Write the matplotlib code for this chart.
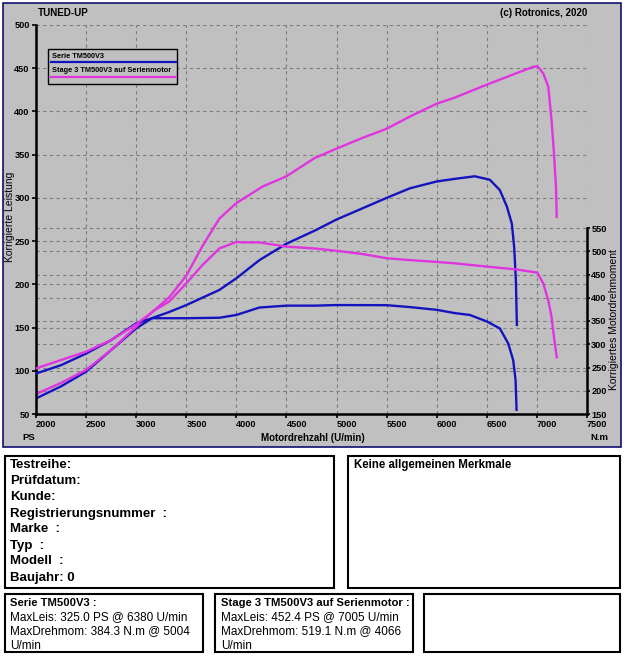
import matplotlib
matplotlib.use('Agg')
import matplotlib.pyplot as plt
from matplotlib.patches import Rectangle
from matplotlib.lines import Line2D

plt.rcParams['font.family'] = ['Liberation Sans', 'DejaVu Sans']

# ---------------- data ----------------
serie_ps_rpm = [2000, 2250, 2500, 2750, 3000, 3160, 3330, 3500, 3830, 4000, 4230, 4500,
                4780, 5000, 5260, 5500, 5730, 6000, 6180, 6380, 6530, 6630, 6700, 6750,
                6773, 6790, 6800]
serie_ps = [68, 82, 99, 124, 149, 161, 168, 176, 193.5, 207, 228, 247,
            262, 275, 288, 300, 311, 319, 322, 325, 321, 309, 290, 270,
            243, 205, 153]

serie_nm_rpm = [2000, 2250, 2500, 2750, 3000, 3160, 3500, 3830, 4000, 4230, 4500, 4780,
                5004, 5500, 5730, 6000, 6180, 6330, 6500, 6630, 6713, 6763, 6787, 6797]
serie_nm = [237, 255, 280, 309, 345, 356, 356, 357, 363, 379, 383, 383,
            384.3, 384, 380, 374, 367, 363, 349, 334, 302, 266, 223, 159]

stage_ps_rpm = [2000, 2250, 2500, 2750, 3000, 3160, 3330, 3500, 3660, 3830, 4000, 4260,
                4500, 4780, 5000, 5250, 5500, 5730, 6000, 6180, 6500, 6790, 6960, 7005,
                7063, 7113, 7146, 7170, 7190, 7198]
stage_ps = [73, 86, 101, 124, 151, 168, 185, 210, 244, 276, 294, 313,
            325, 346, 357, 369, 380, 394, 409, 416, 431, 444, 451.5, 452.4,
            444, 429, 390, 352, 313, 278]

stage_nm_rpm = [2000, 2250, 2500, 2750, 3000, 3190, 3330, 3500, 3660, 3830, 4000, 4066,
                4230, 4500, 4780, 5000, 5260, 5500, 5730, 6000, 6180, 6500, 6790, 7005,
                7063, 7113, 7146, 7170, 7198]
stage_nm = [248, 266, 284, 309, 343, 374, 392, 431, 470, 506, 520, 519.1,
            519, 510, 506, 501, 494, 485, 481, 477, 474, 467, 461, 454,
            431, 395, 359, 316, 272]

rpm_ticks = list(range(2000, 7501, 500))
ps_ticks = list(range(50, 501, 50))
nm_ticks = list(range(150, 551, 50))

series_names = ['Serie TM500V3', 'Stage 3 TM500V3 auf Serienmotor']
info_left = ['Testreihe:', 'Prüfdatum:', 'Kunde:', 'Registrierungsnummer  :',
             'Marke  :', 'Typ  :', 'Modell  :', 'Baujahr: 0']
summary_serie = ['Serie TM500V3 :', 'MaxLeis: 325.0 PS @ 6380 U/min',
                 'MaxDrehmom: 384.3 N.m @ 5004', 'U/min']
summary_stage = ['Stage 3 TM500V3 auf Serienmotor :', 'MaxLeis: 452.4 PS @ 7005 U/min',
                 'MaxDrehmom: 519.1 N.m @ 4066', 'U/min']

# ---------------- styling ----------------
BLUE = '#1414bf'
MAGENTA = '#e034e0'
GRAY = '#c0c0c0'
GRID = '#7c7c7c'

W, H = 625, 656
fig = plt.figure(figsize=(6.25, 6.56), dpi=100)
fig.patch.set_facecolor('white')


def fx(x):
    return x / W


def fy(y):
    return 1 - y / H


def rect(x0, y0, x1, y1, fc='none', ec='black', lw=1.5, z=-1):
    fig.patches.append(Rectangle((fx(x0), fy(y1)), fx(x1) - fx(x0), fy(y0) - fy(y1),
                                 transform=fig.transFigure, facecolor=fc,
                                 edgecolor=ec, lw=lw, zorder=z))


# chart panel
rect(3, 3, 621, 447, fc=GRAY, ec='#101070', lw=1.2, z=-5)

# axes geometry
L, R, T, B = 36, 587, 25, 414
pos = [fx(L), fy(B), fx(R) - fx(L), fy(T) - fy(B)]
NM_TOP = 150 + 400 * (B - T) / (B - 228)

dash = (0, (3, 3))
TICKFS = 6.6

# background grid for torque axis
axg = fig.add_axes(pos)
axg.patch.set_alpha(0)
axg.set_xlim(2000, 7500)
axg.set_ylim(150, NM_TOP)
axg.set_yticks(nm_ticks[1:])
axg.set_xticks([])
axg.yaxis.grid(True, ls=dash, color=GRID, lw=0.8)
axg.tick_params(left=False, labelleft=False, bottom=False, labelbottom=False)
for s in axg.spines.values():
    s.set_visible(False)

# power axis
ax = fig.add_axes(pos)
ax.patch.set_alpha(0)
ax.set_xlim(2000, 7500)
ax.set_ylim(50, 500)
ax.set_xticks(rpm_ticks)
ax.set_yticks(ps_ticks)
ax.grid(True, ls=dash, color=GRID, lw=0.8)
ax.set_axisbelow(True)
for s in ['top', 'right']:
    ax.spines[s].set_visible(False)
for s in ['left', 'bottom']:
    ax.spines[s].set_linewidth(1.8)
ax.tick_params(axis='both', direction='out', length=3, width=1.2, labelsize=TICKFS, pad=1.5)
for lab in ax.get_xticklabels():
    lab.set_fontweight('bold')
    lab.set_horizontalalignment('left')
for lab in ax.get_yticklabels():
    lab.set_fontweight('bold')

ax.plot(serie_ps_rpm, serie_ps, color=BLUE, lw=1.7, solid_joinstyle='round')
ax.plot(stage_ps_rpm, stage_ps, color=MAGENTA, lw=1.7, solid_joinstyle='round')

# torque axis
ax2 = ax.twinx()
ax2.set_ylim(150, NM_TOP)
ax2.set_yticks(nm_ticks)
for s in ['top', 'left', 'bottom']:
    ax2.spines[s].set_visible(False)
ax2.spines['right'].set_bounds(150, 550)
ax2.spines['right'].set_linewidth(1.8)
ax2.tick_params(axis='y', direction='out', length=2.5, width=1.2, labelsize=TICKFS, pad=0.5)
for lab in ax2.get_yticklabels():
    lab.set_fontweight('bold')
ax2.plot(serie_nm_rpm, serie_nm, color=BLUE, lw=1.7, solid_joinstyle='round')
ax2.plot(stage_nm_rpm, stage_nm, color=MAGENTA, lw=1.7, solid_joinstyle='round')

# axis labels and header texts
fig.text(fx(10), fy(217), 'Korrigierte Leistung', rotation=90, ha='center', va='center', fontsize=7.5)
fig.text(fx(614), fy(320), 'Korrigiertes Motordrehmoment', rotation=90, ha='center', va='center', fontsize=7.5)
fig.text(fx(313), fy(438), 'Motordrehzahl (U/min)', ha='center', va='center', fontsize=7, fontweight='bold')
fig.text(fx(29), fy(438), 'PS', ha='center', va='center', fontsize=6.8, fontweight='bold')
fig.text(fx(599), fy(438), 'N.m', ha='center', va='center', fontsize=6.8, fontweight='bold')
fig.text(fx(38), fy(12.5), 'TUNED-UP', ha='left', va='center', fontsize=7.1, fontweight='bold')
fig.text(fx(587), fy(12.5), '(c) Rotronics, 2020', ha='right', va='center', fontsize=7, fontweight='bold')

# legend (manual, drawn like the reference)
rect(48, 49, 177, 84, fc=GRAY, ec='black', lw=1.0, z=5)
fig.text(fx(51.5), fy(56), series_names[0], ha='left', va='center', fontsize=5.3, fontweight='bold', zorder=6)
fig.text(fx(51.5), fy(71), series_names[1], ha='left', va='center', fontsize=5.3, fontweight='bold', zorder=6)
fig.add_artist(Line2D([fx(51), fx(176)], [fy(62), fy(62)], color=BLUE, lw=1.6, zorder=6))
fig.add_artist(Line2D([fx(51), fx(176)], [fy(76.5), fy(76.5)], color=MAGENTA, lw=1.6, zorder=6))

# info boxes
rect(5, 456, 334, 588)
rect(348, 456, 620, 588)
rect(5, 594, 203, 652)
rect(215, 594, 413, 652)
rect(424, 594, 620, 652)

for i, line in enumerate(info_left):
    fig.text(fx(10), fy(465.5 + 16 * i), line, ha='left', va='center', fontsize=9.5, fontweight='bold')
fig.text(fx(354), fy(465), 'Keine allgemeinen Merkmale', ha='left', va='center', fontsize=8.3, fontweight='bold')

for x0, lines in [(10, summary_serie), (221, summary_stage)]:
    for i, line in enumerate(lines):
        fig.text(fx(x0), fy(602.5 + 14.5 * i), line, ha='left', va='center',
                 fontsize=8.1 if i == 0 else 8.5, fontweight='bold' if i == 0 else 'normal')

fig.savefig('out.png', dpi=100, facecolor='white')
